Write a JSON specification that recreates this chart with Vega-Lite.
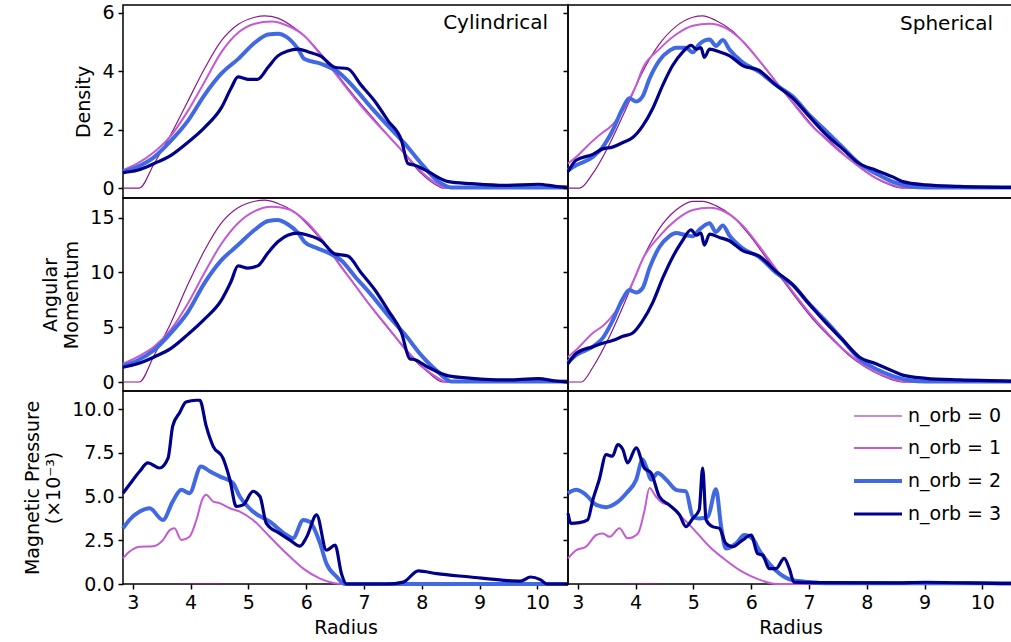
{
"$schema": "https://vega.github.io/schema/vega-lite/v6.json",
"background": "white",
"padding": {"left": 22, "top": 2, "right": 0, "bottom": 4},
"config": {
  "font": "DejaVu Sans",
  "view": {"stroke": "black", "strokeWidth": 1.5},
  "axis": {"domain": false, "grid": false, "ticks": true, "tickColor": "black", "tickWidth": 1.5, "tickSize": 5, "labelFont": "DejaVu Sans", "labelFontSize": 19, "labelColor": "black", "labelPadding": 4, "titleFont": "DejaVu Sans", "titleFontSize": 19, "titleFontWeight": "normal", "titleColor": "black", "titlePadding": 8},
  "legend": {"title": null, "orient": "none", "legendX": 741, "legendY": 398, "symbolType": "M-2,0H2", "symbolSize": 576, "rowPadding": 9, "labelOffset": 16, "labelFontSize": 19, "labelFont": "DejaVu Sans", "labelColor": "black", "padding": 0, "symbolOpacity": 1},
  "title": {"font": "DejaVu Sans", "fontSize": 20, "fontWeight": "normal", "color": "black", "anchor": "end", "frame": "group", "orient": "top", "offset": -29, "dx": -20, "baseline": "alphabetic"},
  "line": {"interpolate": "monotone", "clip": true}
},
"columns": 2,
"spacing": 0,
"bounds": "flush",
"datasets": {
"dc": [
{"n":0,"r":2.83,"v":0},{"n":0,"r":3.11,"v":0},{"n":0,"r":3.37,"v":0.84},{"n":0,"r":3.66,"v":1.84},{"n":0,"r":3.95,"v":2.96},{"n":0,"r":4.24,"v":4.08},{"n":0,"r":4.53,"v":5.03},{"n":0,"r":4.82,"v":5.59},{"n":0,"r":5.11,"v":5.84},{"n":0,"r":5.28,"v":5.89},{"n":0,"r":5.51,"v":5.81},{"n":0,"r":5.80,"v":5.47},{"n":0,"r":5.97,"v":5.20},{"n":0,"r":6.26,"v":4.58},{"n":0,"r":6.55,"v":3.85},{"n":0,"r":6.84,"v":3.13},{"n":0,"r":7.13,"v":2.46},{"n":0,"r":7.42,"v":1.79},{"n":0,"r":7.71,"v":1.15},{"n":0,"r":7.99,"v":0.50},{"n":0,"r":8.29,"v":0.06},{"n":0,"r":8.37,"v":0},{"n":0,"r":10.53,"v":0},
{"n":1,"r":2.83,"v":0.61},{"n":1,"r":3.08,"v":0.84},{"n":1,"r":3.37,"v":1.23},{"n":1,"r":3.66,"v":1.79},{"n":1,"r":3.95,"v":2.63},{"n":1,"r":4.24,"v":3.63},{"n":1,"r":4.53,"v":4.64},{"n":1,"r":4.82,"v":5.31},{"n":1,"r":5.11,"v":5.62},{"n":1,"r":5.40,"v":5.70},{"n":1,"r":5.68,"v":5.55},{"n":1,"r":5.97,"v":5.20},{"n":1,"r":6.26,"v":4.53},{"n":1,"r":6.55,"v":3.80},{"n":1,"r":6.84,"v":3.07},{"n":1,"r":7.13,"v":2.40},{"n":1,"r":7.42,"v":1.79},{"n":1,"r":7.71,"v":1.17},{"n":1,"r":7.99,"v":0.56},{"n":1,"r":8.29,"v":0.11},{"n":1,"r":8.40,"v":0},{"n":1,"r":10.53,"v":0},
{"n":2,"r":2.83,"v":0.56},{"n":2,"r":3.08,"v":0.73},{"n":2,"r":3.37,"v":1.06},{"n":2,"r":3.66,"v":1.62},{"n":2,"r":3.95,"v":2.29},{"n":2,"r":4.24,"v":3.18},{"n":2,"r":4.53,"v":3.91},{"n":2,"r":4.82,"v":4.41},{"n":2,"r":5.11,"v":4.97},{"n":2,"r":5.34,"v":5.25},{"n":2,"r":5.51,"v":5.28},{"n":2,"r":5.68,"v":5.14},{"n":2,"r":5.86,"v":4.75},{"n":2,"r":5.97,"v":4.41},{"n":2,"r":6.26,"v":4.25},{"n":2,"r":6.55,"v":3.97},{"n":2,"r":6.84,"v":3.41},{"n":2,"r":7.13,"v":2.74},{"n":2,"r":7.42,"v":2.12},{"n":2,"r":7.71,"v":1.51},{"n":2,"r":7.99,"v":0.84},{"n":2,"r":8.29,"v":0.22},{"n":2,"r":8.51,"v":0.02},{"n":2,"r":10.53,"v":0.02},
{"n":3,"r":2.83,"v":0.53},{"n":3,"r":3.08,"v":0.61},{"n":3,"r":3.37,"v":0.84},{"n":3,"r":3.66,"v":1.12},{"n":3,"r":3.95,"v":1.56},{"n":3,"r":4.24,"v":2.07},{"n":3,"r":4.53,"v":2.74},{"n":3,"r":4.70,"v":3.41},{"n":3,"r":4.82,"v":3.80},{"n":3,"r":4.99,"v":3.72},{"n":3,"r":5.16,"v":3.72},{"n":3,"r":5.34,"v":4.13},{"n":3,"r":5.51,"v":4.52},{"n":3,"r":5.68,"v":4.69},{"n":3,"r":5.86,"v":4.75},{"n":3,"r":6.03,"v":4.66},{"n":3,"r":6.26,"v":4.50},{"n":3,"r":6.49,"v":4.13},{"n":3,"r":6.72,"v":4.08},{"n":3,"r":6.95,"v":3.52},{"n":3,"r":7.19,"v":2.96},{"n":3,"r":7.42,"v":2.29},{"n":3,"r":7.65,"v":1.62},{"n":3,"r":7.76,"v":0.84},{"n":3,"r":7.88,"v":0.78},{"n":3,"r":8.11,"v":0.56},{"n":3,"r":8.46,"v":0.22},{"n":3,"r":8.86,"v":0.15},{"n":3,"r":9.44,"v":0.09},{"n":3,"r":10.02,"v":0.13},{"n":3,"r":10.31,"v":0.06},{"n":3,"r":10.53,"v":0.02}
],
"ds": [
{"n":0,"r":2.83,"v":0},{"n":0,"r":3.03,"v":0},{"n":0,"r":3.26,"v":0.50},{"n":0,"r":3.55,"v":1.51},{"n":0,"r":3.84,"v":2.74},{"n":0,"r":4.12,"v":3.97},{"n":0,"r":4.41,"v":4.92},{"n":0,"r":4.70,"v":5.53},{"n":0,"r":4.99,"v":5.84},{"n":0,"r":5.16,"v":5.89},{"n":0,"r":5.39,"v":5.73},{"n":0,"r":5.68,"v":5.36},{"n":0,"r":5.97,"v":4.75},{"n":0,"r":6.25,"v":4.08},{"n":0,"r":6.54,"v":3.35},{"n":0,"r":6.83,"v":2.68},{"n":0,"r":7.12,"v":2.01},{"n":0,"r":7.41,"v":1.51},{"n":0,"r":7.69,"v":1.01},{"n":0,"r":7.98,"v":0.56},{"n":0,"r":8.27,"v":0.22},{"n":0,"r":8.62,"v":0},{"n":0,"r":10.53,"v":0},
{"n":1,"r":2.83,"v":0.84},{"n":1,"r":2.97,"v":1.06},{"n":1,"r":3.26,"v":1.62},{"n":1,"r":3.43,"v":1.90},{"n":1,"r":3.55,"v":2.07},{"n":1,"r":3.84,"v":2.85},{"n":1,"r":4.01,"v":3.52},{"n":1,"r":4.12,"v":4.08},{"n":1,"r":4.41,"v":4.75},{"n":1,"r":4.70,"v":5.25},{"n":1,"r":4.99,"v":5.55},{"n":1,"r":5.28,"v":5.62},{"n":1,"r":5.56,"v":5.47},{"n":1,"r":5.85,"v":5.03},{"n":1,"r":6.14,"v":4.36},{"n":1,"r":6.43,"v":3.63},{"n":1,"r":6.72,"v":2.91},{"n":1,"r":7.00,"v":2.23},{"n":1,"r":7.29,"v":1.68},{"n":1,"r":7.58,"v":1.17},{"n":1,"r":7.87,"v":0.73},{"n":1,"r":8.16,"v":0.34},{"n":1,"r":8.44,"v":0.11},{"n":1,"r":8.67,"v":0},{"n":1,"r":10.53,"v":0},
{"n":2,"r":2.83,"v":0.61},{"n":2,"r":2.97,"v":0.78},{"n":2,"r":3.26,"v":1.06},{"n":2,"r":3.43,"v":1.40},{"n":2,"r":3.60,"v":1.96},{"n":2,"r":3.78,"v":2.74},{"n":2,"r":3.89,"v":3.07},{"n":2,"r":4.01,"v":2.96},{"n":2,"r":4.12,"v":3.13},{"n":2,"r":4.24,"v":3.74},{"n":2,"r":4.41,"v":4.36},{"n":2,"r":4.58,"v":4.69},{"n":2,"r":4.70,"v":4.80},{"n":2,"r":4.87,"v":4.80},{"n":2,"r":4.99,"v":4.64},{"n":2,"r":5.10,"v":4.92},{"n":2,"r":5.28,"v":5.08},{"n":2,"r":5.39,"v":4.86},{"n":2,"r":5.51,"v":5.06},{"n":2,"r":5.62,"v":4.75},{"n":2,"r":5.85,"v":4.30},{"n":2,"r":6.14,"v":3.97},{"n":2,"r":6.43,"v":3.52},{"n":2,"r":6.72,"v":3.13},{"n":2,"r":7.00,"v":2.51},{"n":2,"r":7.29,"v":1.96},{"n":2,"r":7.58,"v":1.40},{"n":2,"r":7.87,"v":0.84},{"n":2,"r":8.16,"v":0.50},{"n":2,"r":8.44,"v":0.22},{"n":2,"r":8.73,"v":0.06},{"n":2,"r":9.02,"v":0.02},{"n":2,"r":10.53,"v":0.02},
{"n":3,"r":2.83,"v":0.56},{"n":3,"r":2.97,"v":0.95},{"n":3,"r":3.26,"v":1.15},{"n":3,"r":3.43,"v":1.34},{"n":3,"r":3.60,"v":1.40},{"n":3,"r":3.78,"v":1.56},{"n":3,"r":3.95,"v":1.73},{"n":3,"r":4.12,"v":2.12},{"n":3,"r":4.30,"v":2.74},{"n":3,"r":4.47,"v":3.52},{"n":3,"r":4.64,"v":4.19},{"n":3,"r":4.81,"v":4.64},{"n":3,"r":4.96,"v":4.88},{"n":3,"r":5.05,"v":4.75},{"n":3,"r":5.13,"v":4.80},{"n":3,"r":5.19,"v":4.47},{"n":3,"r":5.28,"v":4.75},{"n":3,"r":5.45,"v":4.66},{"n":3,"r":5.62,"v":4.53},{"n":3,"r":5.85,"v":4.19},{"n":3,"r":6.14,"v":4.02},{"n":3,"r":6.43,"v":3.52},{"n":3,"r":6.72,"v":3.07},{"n":3,"r":7.00,"v":2.46},{"n":3,"r":7.29,"v":1.84},{"n":3,"r":7.58,"v":1.34},{"n":3,"r":7.87,"v":0.84},{"n":3,"r":8.16,"v":0.61},{"n":3,"r":8.44,"v":0.39},{"n":3,"r":8.62,"v":0.22},{"n":3,"r":9.02,"v":0.11},{"n":3,"r":9.60,"v":0.06},{"n":3,"r":10.53,"v":0.02}
],
"ac": [
{"n":0,"r":2.83,"v":0},{"n":0,"r":3.11,"v":0},{"n":0,"r":3.37,"v":2.45},{"n":0,"r":3.66,"v":5.42},{"n":0,"r":3.95,"v":8.87},{"n":0,"r":4.24,"v":12.0},{"n":0,"r":4.53,"v":14.5},{"n":0,"r":4.82,"v":15.9},{"n":0,"r":5.11,"v":16.5},{"n":0,"r":5.28,"v":16.6},{"n":0,"r":5.51,"v":16.3},{"n":0,"r":5.80,"v":15.5},{"n":0,"r":6.09,"v":14.0},{"n":0,"r":6.38,"v":12.2},{"n":0,"r":6.67,"v":10.1},{"n":0,"r":6.95,"v":8.09},{"n":0,"r":7.24,"v":6.05},{"n":0,"r":7.53,"v":4.17},{"n":0,"r":7.82,"v":2.29},{"n":0,"r":8.11,"v":0.88},{"n":0,"r":8.37,"v":0},{"n":0,"r":10.53,"v":0},
{"n":1,"r":2.83,"v":1.66},{"n":1,"r":3.08,"v":2.29},{"n":1,"r":3.37,"v":3.23},{"n":1,"r":3.66,"v":4.80},{"n":1,"r":3.95,"v":7.15},{"n":1,"r":4.24,"v":9.97},{"n":1,"r":4.53,"v":12.6},{"n":1,"r":4.82,"v":14.5},{"n":1,"r":5.11,"v":15.6},{"n":1,"r":5.40,"v":16.0},{"n":1,"r":5.68,"v":15.8},{"n":1,"r":5.97,"v":14.8},{"n":1,"r":6.26,"v":13.1},{"n":1,"r":6.55,"v":10.9},{"n":1,"r":6.84,"v":8.87},{"n":1,"r":7.13,"v":6.83},{"n":1,"r":7.42,"v":4.95},{"n":1,"r":7.71,"v":3.07},{"n":1,"r":7.99,"v":1.50},{"n":1,"r":8.29,"v":0.34},{"n":1,"r":8.43,"v":0},{"n":1,"r":10.53,"v":0},
{"n":2,"r":2.83,"v":1.50},{"n":2,"r":3.08,"v":1.97},{"n":2,"r":3.37,"v":2.92},{"n":2,"r":3.66,"v":4.48},{"n":2,"r":3.95,"v":6.36},{"n":2,"r":4.24,"v":9.03},{"n":2,"r":4.53,"v":11.1},{"n":2,"r":4.82,"v":12.5},{"n":2,"r":5.11,"v":13.9},{"n":2,"r":5.34,"v":14.7},{"n":2,"r":5.51,"v":14.8},{"n":2,"r":5.68,"v":14.4},{"n":2,"r":5.86,"v":13.6},{"n":2,"r":5.97,"v":12.8},{"n":2,"r":6.15,"v":12.3},{"n":2,"r":6.38,"v":11.8},{"n":2,"r":6.61,"v":11.1},{"n":2,"r":6.84,"v":9.66},{"n":2,"r":7.13,"v":7.93},{"n":2,"r":7.42,"v":6.05},{"n":2,"r":7.71,"v":4.33},{"n":2,"r":7.99,"v":2.45},{"n":2,"r":8.29,"v":0.88},{"n":2,"r":8.51,"v":0.05},{"n":2,"r":10.53,"v":0.05},
{"n":3,"r":2.83,"v":1.35},{"n":3,"r":3.08,"v":1.66},{"n":3,"r":3.37,"v":2.29},{"n":3,"r":3.66,"v":3.07},{"n":3,"r":3.95,"v":4.33},{"n":3,"r":4.24,"v":5.74},{"n":3,"r":4.53,"v":7.46},{"n":3,"r":4.70,"v":9.18},{"n":3,"r":4.82,"v":10.6},{"n":3,"r":4.99,"v":10.4},{"n":3,"r":5.16,"v":10.6},{"n":3,"r":5.34,"v":11.8},{"n":3,"r":5.51,"v":12.8},{"n":3,"r":5.68,"v":13.4},{"n":3,"r":5.86,"v":13.6},{"n":3,"r":6.03,"v":13.4},{"n":3,"r":6.26,"v":12.9},{"n":3,"r":6.49,"v":11.7},{"n":3,"r":6.72,"v":11.5},{"n":3,"r":6.95,"v":9.97},{"n":3,"r":7.19,"v":8.40},{"n":3,"r":7.42,"v":6.52},{"n":3,"r":7.65,"v":4.48},{"n":3,"r":7.79,"v":2.13},{"n":3,"r":7.88,"v":2.04},{"n":3,"r":8.11,"v":1.35},{"n":3,"r":8.46,"v":0.56},{"n":3,"r":8.86,"v":0.34},{"n":3,"r":9.44,"v":0.19},{"n":3,"r":10.02,"v":0.31},{"n":3,"r":10.31,"v":0.09},{"n":3,"r":10.53,"v":0.02}
],
"as": [
{"n":0,"r":2.83,"v":0},{"n":0,"r":3.06,"v":0},{"n":0,"r":3.26,"v":1.35},{"n":0,"r":3.55,"v":4.17},{"n":0,"r":3.84,"v":7.62},{"n":0,"r":4.12,"v":11.2},{"n":0,"r":4.41,"v":14.0},{"n":0,"r":4.70,"v":15.7},{"n":0,"r":4.99,"v":16.5},{"n":0,"r":5.16,"v":16.5},{"n":0,"r":5.39,"v":16.1},{"n":0,"r":5.68,"v":15.1},{"n":0,"r":5.97,"v":13.4},{"n":0,"r":6.25,"v":11.4},{"n":0,"r":6.54,"v":9.34},{"n":0,"r":6.83,"v":7.30},{"n":0,"r":7.12,"v":5.42},{"n":0,"r":7.41,"v":3.86},{"n":0,"r":7.69,"v":2.45},{"n":0,"r":7.98,"v":1.35},{"n":0,"r":8.27,"v":0.56},{"n":0,"r":8.62,"v":0},{"n":0,"r":10.53,"v":0},
{"n":1,"r":2.83,"v":2.29},{"n":1,"r":2.97,"v":2.92},{"n":1,"r":3.26,"v":4.48},{"n":1,"r":3.43,"v":5.11},{"n":1,"r":3.55,"v":5.74},{"n":1,"r":3.84,"v":7.93},{"n":1,"r":4.01,"v":9.81},{"n":1,"r":4.12,"v":11.2},{"n":1,"r":4.41,"v":13.3},{"n":1,"r":4.70,"v":14.8},{"n":1,"r":4.99,"v":15.7},{"n":1,"r":5.28,"v":15.9},{"n":1,"r":5.56,"v":15.5},{"n":1,"r":5.85,"v":14.3},{"n":1,"r":6.14,"v":12.4},{"n":1,"r":6.43,"v":10.3},{"n":1,"r":6.72,"v":8.24},{"n":1,"r":7.00,"v":6.36},{"n":1,"r":7.29,"v":4.64},{"n":1,"r":7.58,"v":3.07},{"n":1,"r":7.87,"v":1.82},{"n":1,"r":8.16,"v":0.88},{"n":1,"r":8.44,"v":0.31},{"n":1,"r":8.67,"v":0},{"n":1,"r":10.53,"v":0},
{"n":2,"r":2.83,"v":1.82},{"n":2,"r":2.97,"v":2.45},{"n":2,"r":3.26,"v":3.23},{"n":2,"r":3.43,"v":4.01},{"n":2,"r":3.60,"v":5.58},{"n":2,"r":3.78,"v":7.62},{"n":2,"r":3.89,"v":8.40},{"n":2,"r":4.01,"v":8.18},{"n":2,"r":4.12,"v":8.56},{"n":2,"r":4.24,"v":10.4},{"n":2,"r":4.41,"v":12.3},{"n":2,"r":4.58,"v":13.3},{"n":2,"r":4.70,"v":13.6},{"n":2,"r":4.87,"v":13.4},{"n":2,"r":4.99,"v":13.3},{"n":2,"r":5.10,"v":13.9},{"n":2,"r":5.28,"v":14.5},{"n":2,"r":5.39,"v":13.7},{"n":2,"r":5.51,"v":14.3},{"n":2,"r":5.62,"v":13.4},{"n":2,"r":5.85,"v":12.2},{"n":2,"r":6.14,"v":11.4},{"n":2,"r":6.43,"v":9.97},{"n":2,"r":6.72,"v":8.87},{"n":2,"r":7.00,"v":7.15},{"n":2,"r":7.29,"v":5.58},{"n":2,"r":7.58,"v":3.86},{"n":2,"r":7.87,"v":2.13},{"n":2,"r":8.16,"v":1.19},{"n":2,"r":8.44,"v":0.56},{"n":2,"r":8.73,"v":0.16},{"n":2,"r":9.02,"v":0.05},{"n":2,"r":10.53,"v":0.05},
{"n":3,"r":2.83,"v":1.66},{"n":3,"r":2.97,"v":2.60},{"n":3,"r":3.26,"v":3.23},{"n":3,"r":3.43,"v":3.54},{"n":3,"r":3.60,"v":3.79},{"n":3,"r":3.78,"v":4.17},{"n":3,"r":3.95,"v":4.48},{"n":3,"r":4.12,"v":5.58},{"n":3,"r":4.30,"v":7.30},{"n":3,"r":4.47,"v":9.50},{"n":3,"r":4.64,"v":11.4},{"n":3,"r":4.81,"v":12.9},{"n":3,"r":4.96,"v":13.9},{"n":3,"r":5.05,"v":13.4},{"n":3,"r":5.13,"v":13.6},{"n":3,"r":5.19,"v":12.5},{"n":3,"r":5.28,"v":13.5},{"n":3,"r":5.45,"v":13.2},{"n":3,"r":5.62,"v":12.9},{"n":3,"r":5.85,"v":12.0},{"n":3,"r":6.14,"v":11.5},{"n":3,"r":6.43,"v":10.1},{"n":3,"r":6.72,"v":8.87},{"n":3,"r":7.00,"v":7.15},{"n":3,"r":7.29,"v":5.42},{"n":3,"r":7.58,"v":3.86},{"n":3,"r":7.87,"v":2.29},{"n":3,"r":8.16,"v":1.66},{"n":3,"r":8.44,"v":1.03},{"n":3,"r":8.62,"v":0.63},{"n":3,"r":9.02,"v":0.34},{"n":3,"r":9.60,"v":0.19},{"n":3,"r":10.46,"v":0.09},{"n":3,"r":10.53,"v":0.08}
],
"mc": [
{"n":0,"r":3.8,"v":0},{"n":0,"r":3.9,"v":0.03},{"n":0,"r":4.45,"v":0.03},{"n":0,"r":4.55,"v":0},
{"n":1,"r":2.83,"v":1.46},{"n":1,"r":2.94,"v":1.84},{"n":1,"r":3.12,"v":2.13},{"n":1,"r":3.35,"v":2.16},{"n":1,"r":3.52,"v":2.51},{"n":1,"r":3.64,"v":3.08},{"n":1,"r":3.72,"v":3.18},{"n":1,"r":3.84,"v":2.51},{"n":1,"r":3.98,"v":2.70},{"n":1,"r":4.10,"v":3.66},{"n":1,"r":4.21,"v":4.90},{"n":1,"r":4.27,"v":5.10},{"n":1,"r":4.39,"v":4.71},{"n":1,"r":4.50,"v":4.62},{"n":1,"r":4.68,"v":4.33},{"n":1,"r":4.85,"v":4.14},{"n":1,"r":5.08,"v":3.66},{"n":1,"r":5.37,"v":2.70},{"n":1,"r":5.66,"v":1.74},{"n":1,"r":5.95,"v":0.88},{"n":1,"r":6.24,"v":0.31},{"n":1,"r":6.47,"v":0.06},{"n":1,"r":6.64,"v":0},{"n":1,"r":10.53,"v":0},
{"n":2,"r":2.83,"v":3.18},{"n":2,"r":2.94,"v":3.66},{"n":2,"r":3.12,"v":4.14},{"n":2,"r":3.29,"v":4.33},{"n":2,"r":3.52,"v":3.66},{"n":2,"r":3.69,"v":4.71},{"n":2,"r":3.84,"v":5.38},{"n":2,"r":3.98,"v":5.19},{"n":2,"r":4.18,"v":6.72},{"n":2,"r":4.33,"v":6.44},{"n":2,"r":4.50,"v":6.15},{"n":2,"r":4.73,"v":5.77},{"n":2,"r":4.85,"v":5.00},{"n":2,"r":5.08,"v":4.14},{"n":2,"r":5.37,"v":3.56},{"n":2,"r":5.66,"v":2.80},{"n":2,"r":5.77,"v":2.61},{"n":2,"r":5.95,"v":3.66},{"n":2,"r":6.06,"v":3.56},{"n":2,"r":6.24,"v":2.32},{"n":2,"r":6.35,"v":1.17},{"n":2,"r":6.53,"v":0.40},{"n":2,"r":6.67,"v":0},{"n":2,"r":10.53,"v":0},
{"n":3,"r":2.83,"v":5.19},{"n":3,"r":2.94,"v":5.67},{"n":3,"r":3.12,"v":6.44},{"n":3,"r":3.26,"v":6.92},{"n":3,"r":3.46,"v":6.63},{"n":3,"r":3.61,"v":7.20},{"n":3,"r":3.69,"v":9.02},{"n":3,"r":3.81,"v":9.79},{"n":3,"r":3.92,"v":10.4},{"n":3,"r":4.10,"v":10.5},{"n":3,"r":4.16,"v":10.5},{"n":3,"r":4.27,"v":9.02},{"n":3,"r":4.39,"v":7.87},{"n":3,"r":4.56,"v":7.20},{"n":3,"r":4.68,"v":5.96},{"n":3,"r":4.79,"v":4.43},{"n":3,"r":4.91,"v":4.52},{"n":3,"r":5.08,"v":5.29},{"n":3,"r":5.20,"v":5.00},{"n":3,"r":5.31,"v":3.47},{"n":3,"r":5.54,"v":2.89},{"n":3,"r":5.72,"v":2.51},{"n":3,"r":5.89,"v":2.16},{"n":3,"r":6.01,"v":2.70},{"n":3,"r":6.18,"v":3.95},{"n":3,"r":6.35,"v":1.93},{"n":3,"r":6.50,"v":2.22},{"n":3,"r":6.61,"v":0.59},{"n":3,"r":6.70,"v":0},{"n":3,"r":7.39,"v":0},{"n":3,"r":7.68,"v":0.11},{"n":3,"r":7.94,"v":0.75},{"n":3,"r":8.26,"v":0.59},{"n":3,"r":8.84,"v":0.40},{"n":3,"r":9.42,"v":0.21},{"n":3,"r":9.71,"v":0.17},{"n":3,"r":9.88,"v":0.40},{"n":3,"r":10.05,"v":0.25},{"n":3,"r":10.17,"v":0},{"n":3,"r":10.53,"v":0}
],
"ms": [
{"n":0,"r":3.85,"v":0},{"n":0,"r":3.92,"v":0.03},{"n":0,"r":4.32,"v":0.03},{"n":0,"r":4.4,"v":0},
{"n":1,"r":2.83,"v":1.46},{"n":1,"r":2.97,"v":1.93},{"n":1,"r":3.14,"v":2.13},{"n":1,"r":3.32,"v":2.80},{"n":1,"r":3.43,"v":2.89},{"n":1,"r":3.55,"v":2.70},{"n":1,"r":3.72,"v":3.18},{"n":1,"r":3.86,"v":2.61},{"n":1,"r":4.04,"v":2.89},{"n":1,"r":4.15,"v":4.14},{"n":1,"r":4.24,"v":5.48},{"n":1,"r":4.35,"v":5.00},{"n":1,"r":4.47,"v":4.62},{"n":1,"r":4.58,"v":4.52},{"n":1,"r":4.76,"v":3.95},{"n":1,"r":4.99,"v":3.18},{"n":1,"r":5.28,"v":2.13},{"n":1,"r":5.56,"v":1.36},{"n":1,"r":5.85,"v":0.69},{"n":1,"r":6.14,"v":0.25},{"n":1,"r":6.43,"v":0},{"n":1,"r":10.53,"v":0},
{"n":2,"r":2.83,"v":5.19},{"n":2,"r":2.97,"v":5.38},{"n":2,"r":3.14,"v":5.10},{"n":2,"r":3.32,"v":4.52},{"n":2,"r":3.49,"v":4.39},{"n":2,"r":3.66,"v":4.62},{"n":2,"r":3.84,"v":5.19},{"n":2,"r":4.01,"v":5.96},{"n":2,"r":4.12,"v":7.11},{"n":2,"r":4.18,"v":6.72},{"n":2,"r":4.27,"v":5.96},{"n":2,"r":4.38,"v":6.34},{"n":2,"r":4.53,"v":5.96},{"n":2,"r":4.70,"v":5.38},{"n":2,"r":4.87,"v":5.29},{"n":2,"r":4.99,"v":3.85},{"n":2,"r":5.10,"v":3.75},{"n":2,"r":5.25,"v":3.85},{"n":2,"r":5.39,"v":5.42},{"n":2,"r":5.48,"v":3.28},{"n":2,"r":5.56,"v":2.03},{"n":2,"r":5.74,"v":2.32},{"n":2,"r":5.88,"v":2.80},{"n":2,"r":6.02,"v":2.61},{"n":2,"r":6.14,"v":1.93},{"n":2,"r":6.31,"v":1.17},{"n":2,"r":6.49,"v":0.59},{"n":2,"r":6.72,"v":0.21},{"n":2,"r":7.00,"v":0.11},{"n":2,"r":7.29,"v":0.05},{"n":2,"r":10.53,"v":0.05},
{"n":3,"r":2.83,"v":4.04},{"n":3,"r":2.88,"v":3.47},{"n":3,"r":3.03,"v":3.51},{"n":3,"r":3.17,"v":3.66},{"n":3,"r":3.26,"v":4.81},{"n":3,"r":3.37,"v":5.96},{"n":3,"r":3.49,"v":7.39},{"n":3,"r":3.60,"v":7.30},{"n":3,"r":3.69,"v":7.97},{"n":3,"r":3.78,"v":7.68},{"n":3,"r":3.86,"v":6.92},{"n":3,"r":4.01,"v":7.78},{"n":3,"r":4.15,"v":6.63},{"n":3,"r":4.27,"v":6.34},{"n":3,"r":4.41,"v":5.00},{"n":3,"r":4.58,"v":4.52},{"n":3,"r":4.76,"v":3.95},{"n":3,"r":4.87,"v":3.28},{"n":3,"r":4.99,"v":3.75},{"n":3,"r":5.10,"v":4.23},{"n":3,"r":5.16,"v":6.63},{"n":3,"r":5.22,"v":3.66},{"n":3,"r":5.33,"v":3.28},{"n":3,"r":5.45,"v":3.18},{"n":3,"r":5.56,"v":2.32},{"n":3,"r":5.68,"v":2.13},{"n":3,"r":5.85,"v":2.51},{"n":3,"r":6.00,"v":2.80},{"n":3,"r":6.11,"v":1.74},{"n":3,"r":6.20,"v":1.65},{"n":3,"r":6.31,"v":0.88},{"n":3,"r":6.43,"v":0.88},{"n":3,"r":6.57,"v":1.46},{"n":3,"r":6.66,"v":0.88},{"n":3,"r":6.74,"v":0.11},{"n":3,"r":7.29,"v":0.08},{"n":3,"r":8.44,"v":0.06},{"n":3,"r":9.02,"v":0.10},{"n":3,"r":10.46,"v":0.02},{"n":3,"r":10.53,"v":0.02}
]
},
"concat": [
{
 "width": 445, "height": 193,
 "data": {"name": "dc"},
 "title": {"text": "Cylindrical"},
 "mark": {"type": "line"},
 "encoding": {
  "x": {"field": "r", "type": "quantitative", "scale": {"domain": [2.83, 10.53], "nice": false, "zero": false}, "axis": null},
  "y": {"field": "v", "type": "quantitative", "scale": {"domain": [-0.34, 6.26], "nice": false, "zero": false}, "axis": {"values": [0, 2, 4, 6], "title": "Density"}},
  "color": {"field": "n", "type": "ordinal", "scale": {"domain": [0, 1, 2, 3], "range": ["#8b1a8b", "#c45ad4", "#4169e1", "#00008b"]}, "legend": {"labelExpr": "'n_orb = ' + datum.label"}},
  "strokeWidth": {"field": "n", "type": "ordinal", "scale": {"type": "ordinal", "domain": [0, 1, 2, 3], "range": [1.2, 2, 4, 3.2]}, "legend": {"labelExpr": "'n_orb = ' + datum.label"}}
 }
},
{
 "width": 445, "height": 193,
 "data": {"name": "ds"},
 "title": {"text": "Spherical"},
 "mark": {"type": "line"},
 "encoding": {
  "x": {"field": "r", "type": "quantitative", "scale": {"domain": [2.83, 10.53], "nice": false, "zero": false}, "axis": null},
  "y": {"field": "v", "type": "quantitative", "scale": {"domain": [-0.34, 6.26], "nice": false, "zero": false}, "axis": {"values": [0, 2, 4, 6], "labels": false, "title": null}},
  "color": {"field": "n", "type": "ordinal", "scale": {"domain": [0, 1, 2, 3], "range": ["#8b1a8b", "#c45ad4", "#4169e1", "#00008b"]}, "legend": {"labelExpr": "'n_orb = ' + datum.label"}},
  "strokeWidth": {"field": "n", "type": "ordinal", "scale": {"type": "ordinal", "domain": [0, 1, 2, 3], "range": [1.2, 2, 4, 3.2]}, "legend": {"labelExpr": "'n_orb = ' + datum.label"}}
 }
},
{
 "width": 445, "height": 193,
 "data": {"name": "ac"},
 "mark": {"type": "line"},
 "encoding": {
  "x": {"field": "r", "type": "quantitative", "scale": {"domain": [2.83, 10.53], "nice": false, "zero": false}, "axis": null},
  "y": {"field": "v", "type": "quantitative", "scale": {"domain": [-0.82, 16.8], "nice": false, "zero": false}, "axis": {"values": [0, 5, 10, 15], "title": ["Angular", "Momentum"]}},
  "color": {"field": "n", "type": "ordinal", "scale": {"domain": [0, 1, 2, 3], "range": ["#8b1a8b", "#c45ad4", "#4169e1", "#00008b"]}, "legend": {"labelExpr": "'n_orb = ' + datum.label"}},
  "strokeWidth": {"field": "n", "type": "ordinal", "scale": {"type": "ordinal", "domain": [0, 1, 2, 3], "range": [1.2, 2, 4, 3.2]}, "legend": {"labelExpr": "'n_orb = ' + datum.label"}}
 }
},
{
 "width": 445, "height": 193,
 "data": {"name": "as"},
 "mark": {"type": "line"},
 "encoding": {
  "x": {"field": "r", "type": "quantitative", "scale": {"domain": [2.83, 10.53], "nice": false, "zero": false}, "axis": null},
  "y": {"field": "v", "type": "quantitative", "scale": {"domain": [-0.82, 16.8], "nice": false, "zero": false}, "axis": {"values": [0, 5, 10, 15], "labels": false, "title": null}},
  "color": {"field": "n", "type": "ordinal", "scale": {"domain": [0, 1, 2, 3], "range": ["#8b1a8b", "#c45ad4", "#4169e1", "#00008b"]}, "legend": {"labelExpr": "'n_orb = ' + datum.label"}},
  "strokeWidth": {"field": "n", "type": "ordinal", "scale": {"type": "ordinal", "domain": [0, 1, 2, 3], "range": [1.2, 2, 4, 3.2]}, "legend": {"labelExpr": "'n_orb = ' + datum.label"}}
 }
},
{
 "width": 445, "height": 193,
 "data": {"name": "mc"},
 "mark": {"type": "line"},
 "encoding": {
  "x": {"field": "r", "type": "quantitative", "scale": {"domain": [2.83, 10.53], "nice": false, "zero": false}, "axis": {"values": [3, 4, 5, 6, 7, 8, 9, 10], "title": "Radius", "titlePadding": 6}},
  "y": {"field": "v", "type": "quantitative", "scale": {"domain": [0, 11.03], "nice": false, "zero": false}, "axis": {"values": [0, 2.5, 5, 7.5, 10], "format": ".1f", "title": ["Magnetic Pressure", "(×10⁻³)"]}},
  "color": {"field": "n", "type": "ordinal", "scale": {"domain": [0, 1, 2, 3], "range": ["#8b1a8b", "#c45ad4", "#4169e1", "#00008b"]}, "legend": {"labelExpr": "'n_orb = ' + datum.label"}},
  "strokeWidth": {"field": "n", "type": "ordinal", "scale": {"type": "ordinal", "domain": [0, 1, 2, 3], "range": [1.2, 2, 4, 3.2]}, "legend": {"labelExpr": "'n_orb = ' + datum.label"}}
 }
},
{
 "width": 445, "height": 193,
 "data": {"name": "ms"},
 "mark": {"type": "line"},
 "encoding": {
  "x": {"field": "r", "type": "quantitative", "scale": {"domain": [2.83, 10.53], "nice": false, "zero": false}, "axis": {"values": [3, 4, 5, 6, 7, 8, 9, 10], "title": "Radius", "titlePadding": 6}},
  "y": {"field": "v", "type": "quantitative", "scale": {"domain": [0, 11.03], "nice": false, "zero": false}, "axis": {"values": [0, 2.5, 5, 7.5, 10], "labels": false, "title": null}},
  "color": {"field": "n", "type": "ordinal", "scale": {"domain": [0, 1, 2, 3], "range": ["#8b1a8b", "#c45ad4", "#4169e1", "#00008b"]}, "legend": {"labelExpr": "'n_orb = ' + datum.label"}},
  "strokeWidth": {"field": "n", "type": "ordinal", "scale": {"type": "ordinal", "domain": [0, 1, 2, 3], "range": [1.2, 2, 4, 3.2]}, "legend": {"labelExpr": "'n_orb = ' + datum.label"}}
 }
}
]
}
